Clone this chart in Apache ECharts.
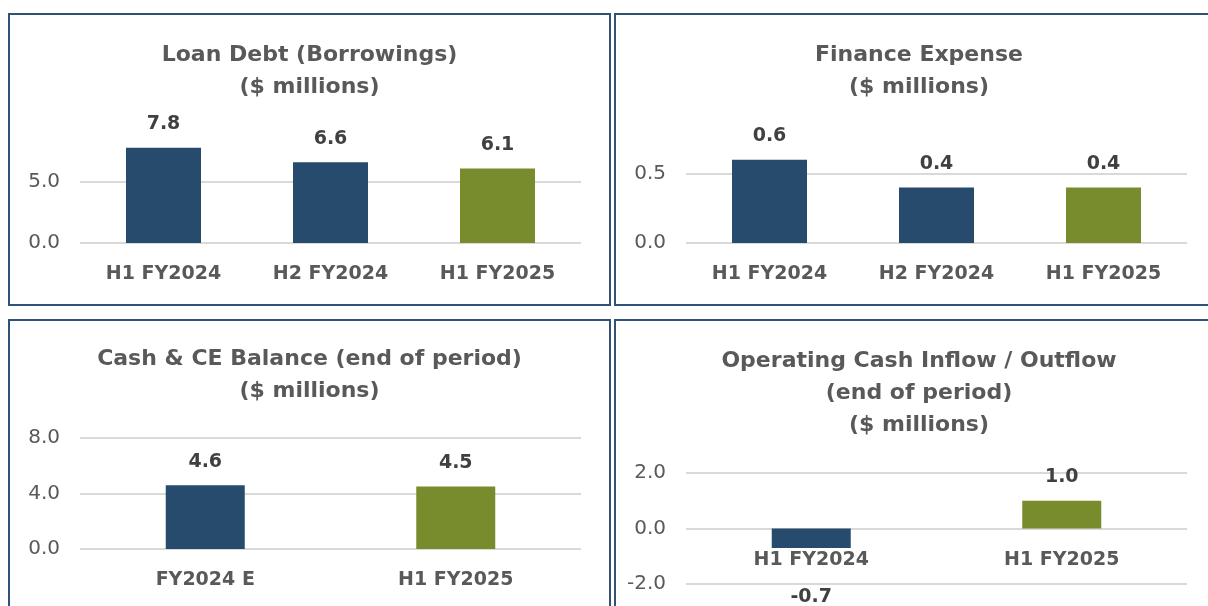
<!DOCTYPE html>
<html>
<head>
<meta charset="utf-8">
<script src="https://cdn.jsdelivr.net/npm/echarts@6/dist/echarts.min.js"></script>
<style>
    html, body {
        margin: 0;
        padding: 0;
        background: #fff;
        width: 1208px;
        height: 606px;
        overflow: hidden;
    }
    .panel {
        position: absolute;
        border: 2px solid #2f5275;
        box-sizing: border-box;
        background: #fff;
    }
    .panel .chart {
        width: 100%;
        height: 100%;
    }
    #p1 { left: 8px; top: 13px; width: 603px; height: 293px; }
    #p2 { left: 614px; top: 13px; width: 610px; height: 293px; }
    #p3 { left: 8px; top: 319px; width: 603px; height: 300px; }
    #p4 { left: 614px; top: 319px; width: 610px; height: 300px; }
</style>
</head>
<body>
<div class="panel" id="p1"><div class="chart" id="c1"></div></div>
<div class="panel" id="p2"><div class="chart" id="c2"></div></div>
<div class="panel" id="p3"><div class="chart" id="c3"></div></div>
<div class="panel" id="p4"><div class="chart" id="c4"></div></div>
<script>
// data
const halfCats = ['H1 FY2024', 'H2 FY2024', 'H1 FY2025']
const loanValues = [7.8, 6.6, 6.1]
const financeValues = [0.6, 0.4, 0.4]
const cashCats = ['FY2024 E', 'H1 FY2025']
const cashValues = [4.6, 4.5]
const flowCats = ['H1 FY2024', 'H1 FY2025']
const flowValues = [-0.7, 1.0]

const BLUE = '#264b6c'
const GREEN = '#788b2d'
const FONT = '"DejaVu Sans", sans-serif'

// cfg: title, cats, values, min, max, interval, grid, barWidth, hideMax
const makeChart = (id, cfg) => {
    const chart = echarts.init(document.getElementById(id))
    const n = cfg.values.length
    const gridColor = cfg.hideMax ? ['#d9d9d9', '#d9d9d9', 'rgba(0,0,0,0)'] : '#d9d9d9'
    // category labels sit under the zero line, like the excel original
    const zeroOffset = -cfg.grid.height * (0 - cfg.min) / (cfg.max - cfg.min)
    chart.setOption({
        animation: false,
        textStyle: { fontFamily: FONT },
        title: {
            text: cfg.title,
            left: 'center',
            top: cfg.titleTop,
            textStyle: {
                fontFamily: FONT,
                fontSize: 22,
                fontWeight: 'bold',
                color: '#595959',
                lineHeight: 32
            }
        },
        grid: cfg.grid,
        xAxis: {
            type: 'category',
            data: cfg.cats,
            offset: zeroOffset,
            axisLine: { show: false, onZero: false },
            axisTick: { show: false },
            axisLabel: {
                margin: 22,
                fontFamily: FONT,
                fontSize: 19,
                fontWeight: 'bold',
                color: '#595959'
            }
        },
        yAxis: {
            type: 'value',
            min: cfg.min,
            max: cfg.max,
            interval: cfg.interval,
            axisLine: { show: false },
            axisTick: { show: false },
            axisLabel: {
                margin: 20,
                showMaxLabel: !cfg.hideMax,
                fontFamily: FONT,
                fontSize: 20,
                color: '#595959',
                formatter: v => v.toFixed(1)
            },
            splitLine: {
                lineStyle: { color: gridColor, width: 2 }
            }
        },
        series: [
            {
                type: 'bar',
                barWidth: cfg.barWidth,
                data: cfg.values.map(v => ({
                    value: v,
                    label: v < 0 ? { position: 'bottom', distance: 40 } : undefined
                })),
                itemStyle: {
                    color: p => (p.dataIndex === n - 1 ? GREEN : BLUE)
                },
                label: {
                    show: true,
                    position: 'top',
                    distance: 14,
                    fontFamily: FONT,
                    fontSize: 19,
                    fontWeight: 'bold',
                    color: '#404040',
                    formatter: p => p.value.toFixed(1)
                }
            }
        ]
    })
}

makeChart('c1', {
    title: 'Loan Debt (Borrowings)\n($ millions)',
    titleTop: 19,
    cats: halfCats,
    values: loanValues,
    min: 0, max: 9, interval: 5, hideMax: true,
    grid: { left: 70, top: 118, width: 501, height: 110 },
    barWidth: 75
})
makeChart('c2', {
    title: 'Finance Expense\n($ millions)',
    titleTop: 19,
    cats: halfCats,
    values: financeValues,
    min: 0, max: 0.7, interval: 0.5, hideMax: true,
    grid: { left: 70, top: 131, width: 501, height: 97 },
    barWidth: 75
})
makeChart('c3', {
    title: 'Cash & CE Balance (end of period)\n($ millions)',
    titleTop: 17,
    cats: cashCats,
    values: cashValues,
    min: 0, max: 8, interval: 4,
    grid: { left: 70, top: 117, width: 501, height: 111 },
    barWidth: 79
})
makeChart('c4', {
    title: 'Operating Cash Inflow / Outflow\n(end of period)\n($ millions)',
    titleTop: 19,
    cats: flowCats,
    values: flowValues,
    min: -2, max: 2, interval: 2,
    grid: { left: 70, top: 152, width: 501, height: 111 },
    barWidth: 79
})
</script>
</body>
</html>
